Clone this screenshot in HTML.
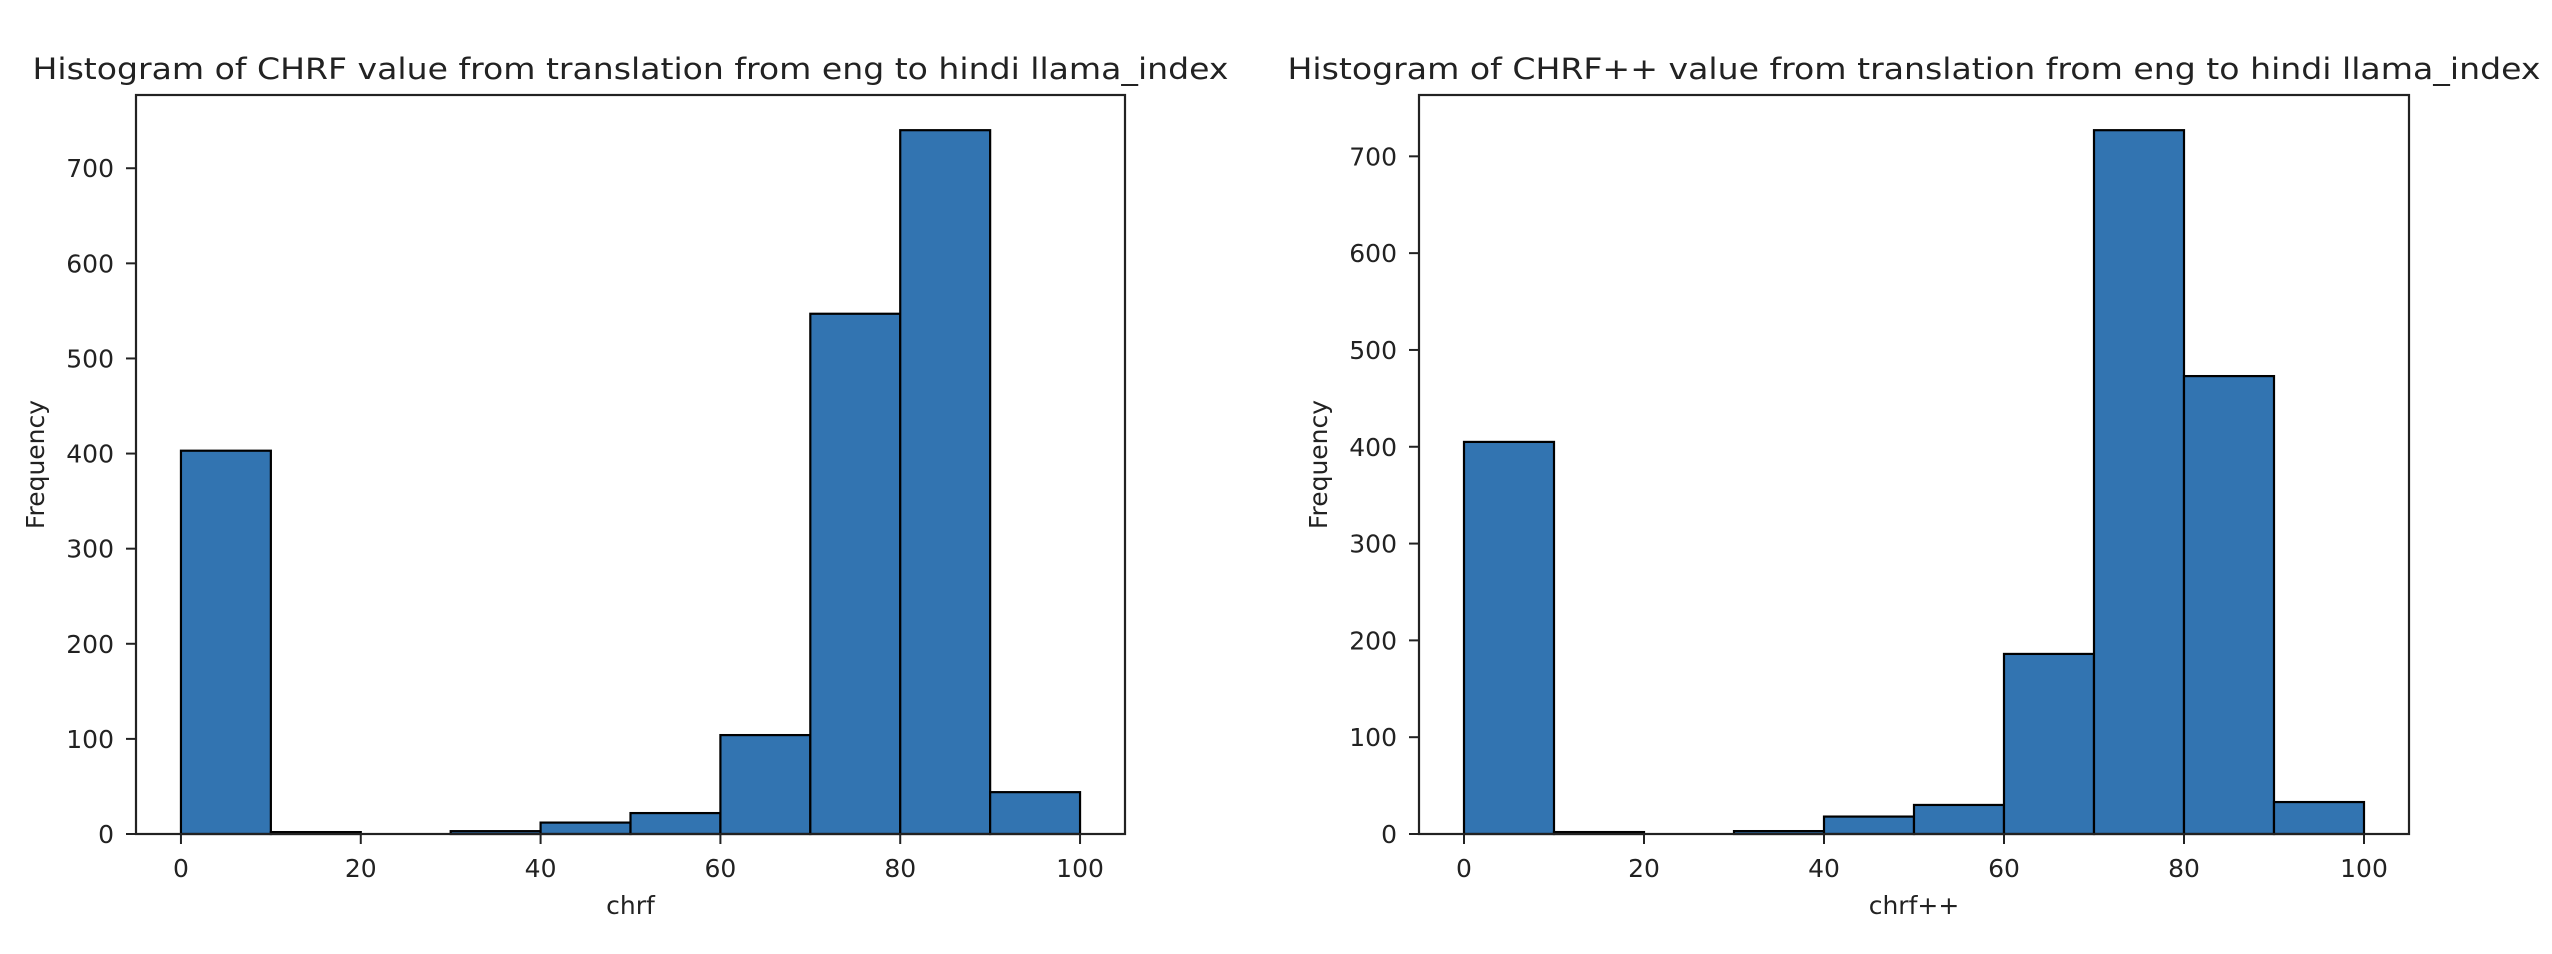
<!DOCTYPE html>
<html><head><meta charset="utf-8"><style>
html,body{margin:0;padding:0;background:#fff;}
svg{display:block;font-family:"DejaVu Sans","Liberation Sans",sans-serif;fill:#222;}
</style></head><body>
<svg id="fig" width="2552" height="954" viewBox="0 0 2552 954" xmlns="http://www.w3.org/2000/svg"></svg>
<script>
const binEdges=[0,10,20,30,40,50,60,70,80,90,100];
const chrfCounts=[403,2,0,3,12,22,104,547,740,44];
const chrfppCounts=[405,2,0,3,18,30,186,727,473,33];
const xTicks=[0,20,40,60,80,100];
const yTicks=[0,100,200,300,400,500,600,700];
const titles=["Histogram of CHRF value from translation from eng to hindi llama_index","Histogram of CHRF++ value from translation from eng to hindi llama_index"];
const xLabels=["chrf","chrf++"];

const NS="http://www.w3.org/2000/svg";
const svg=document.getElementById('fig');
function mk(tag,attrs,parent){const e=document.createElementNS(NS,tag);for(const k in attrs)e.setAttribute(k,attrs[k]);(parent||svg).appendChild(e);return e;}

function drawPanel(idx,counts,L,R,T,B,titleLen){
  const g=mk('g',{});
  
  
  const ymax=Math.max(...counts)*1.05;
  const xs=v=>L+(v+5)/110*(R-L);
  const ys=v=>B-v/ymax*(B-T);
  for(let i=0;i<counts.length;i++){
    const x0=xs(binEdges[i]),x1=xs(binEdges[i+1]),y=ys(counts[i]);
    const r=mk('rect',{x:x0,y:y,width:x1-x0,height:B-y,fill:'#3274b1',stroke:'#000','stroke-width':2.2},g);
    
    
  }
  const frame=mk('rect',{x:L,y:T,width:R-L,height:B-T,fill:'none',stroke:'#222','stroke-width':2.2},g);
  
  
  xTicks.forEach(v=>{
    const x=xs(v);
    mk('line',{x1:x,x2:x,y1:B,y2:B+10,stroke:'#222','stroke-width':2},g);
    const t=mk('text',{x:x,y:B+43,'text-anchor':'middle','font-size':25},g);
    t.textContent=v;
    
    
  });
  yTicks.forEach(v=>{
    const y=ys(v);
    mk('line',{x1:L-10,x2:L,y1:y,y2:y,stroke:'#222','stroke-width':2},g);
    const t=mk('text',{x:L-22,y:y+9,'text-anchor':'end','font-size':25},g);
    t.textContent=v;
    
    
  });
  const title=mk('text',{x:(L+R)/2,y:79,'text-anchor':'middle','font-size':29,textLength:titleLen,lengthAdjust:'spacingAndGlyphs'},g);
  title.textContent=titles[idx];
  
  
  const xl=mk('text',{x:(L+R)/2,y:914,'text-anchor':'middle','font-size':25},g);
  xl.textContent=xLabels[idx];
  
  
  const cy=(T+B)/2, cx=L-92;
  const yl=mk('text',{x:cx,y:cy,'text-anchor':'middle','font-size':25,transform:'rotate(-90 '+cx+' '+cy+')'},g);
  yl.textContent='Frequency';
  
  
}
drawPanel(0,chrfCounts,136,1125,95,834,1196);
drawPanel(1,chrfppCounts,1419,2409,95,834,1253);
</script>
</body></html>
